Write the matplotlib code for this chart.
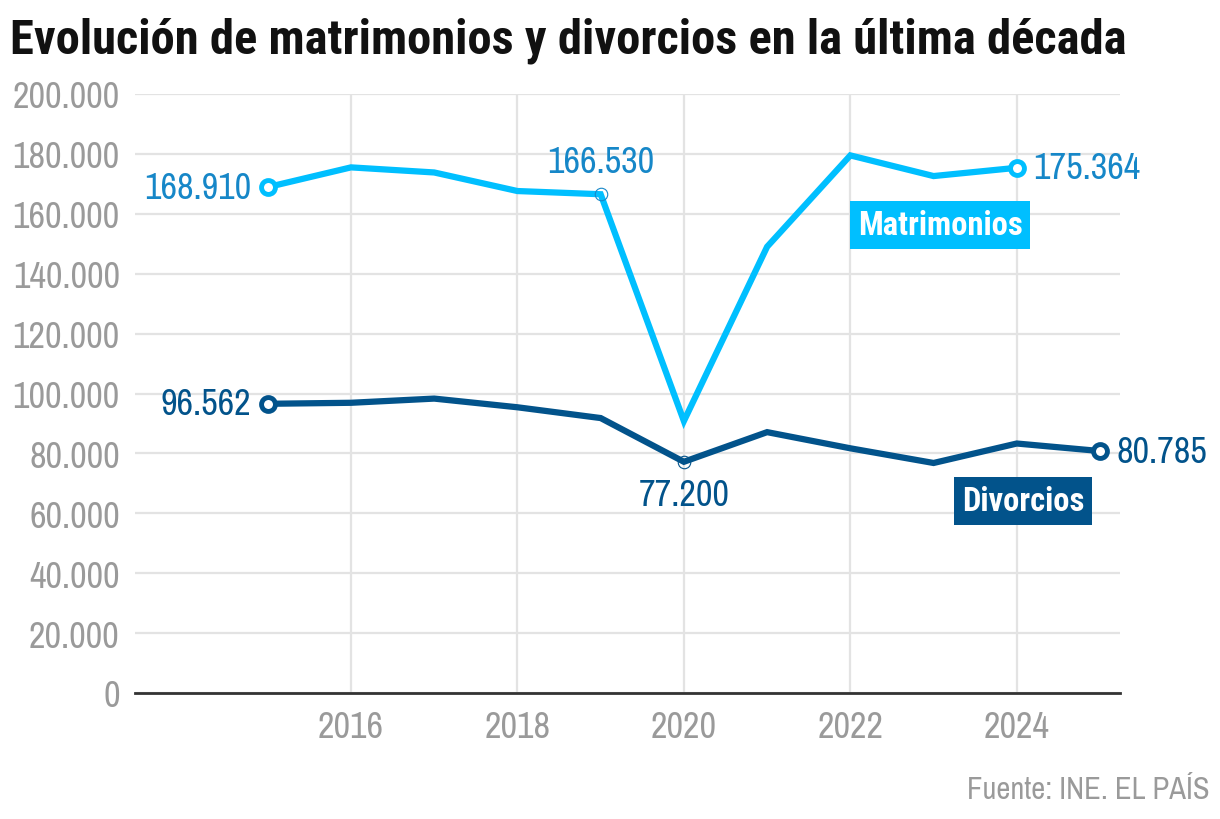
import matplotlib
matplotlib.use("Agg")
import matplotlib.pyplot as plt
from matplotlib.ticker import FuncFormatter

years = [2015, 2016, 2017, 2018, 2019, 2020, 2021, 2022, 2023, 2024, 2025]
matrimonios_years = years[:10]
matrimonios = [168910, 175500, 173800, 167600, 166530, 90800, 149000, 179500, 172600, 175364]
divorcios = [96562, 96900, 98300, 95400, 91800, 77200, 87100, 81700, 76800, 83300, 80785]

x_ticks = [2016, 2018, 2020, 2022, 2024]
y_ticks = list(range(0, 200001, 20000))

title = "Evolución de matrimonios y divorcios en la última década"
source = "Fuente: INE. EL PAÍS"

C_MAT = "#00BFFF"
C_MAT_TXT = "#1687C8"
C_DIV = "#02538B"
GRID = "#E3E3E3"
TICK = "#9A9A9A"

FONT = ["Archivo Narrow", "DejaVu Sans"]
BOLD = ["Roboto Condensed", "DejaVu Sans"]
plt.rcParams["font.family"] = FONT

fig = plt.figure(figsize=(12.2, 8.2), dpi=100)
ax = fig.add_axes([135/1220, 1-694/820, (1120-135)/1220, (694-95)/820])

ax.set_xlim(2013.405, 2025.24)
ax.set_ylim(0, 200000)

for s in ["top", "right", "left"]:
    ax.spines[s].set_visible(False)
ax.spines["bottom"].set_color("#333333")
ax.spines["bottom"].set_linewidth(2)
ax.spines["bottom"].set_zorder(5)

ax.set_xticks(x_ticks)
ax.set_yticks(y_ticks)
ax.yaxis.set_major_formatter(FuncFormatter(lambda v, p: f"{int(v):,}".replace(",", ".")))
ax.grid(True, color=GRID, linewidth=1.6)
ax.set_axisbelow(True)
ax.tick_params(axis="both", length=0, labelsize=26, labelcolor=TICK)
ax.tick_params(axis="y", pad=11)
ax.tick_params(axis="x", pad=12)

ax.plot(matrimonios_years, matrimonios, color=C_MAT, lw=4.5, solid_joinstyle="miter", zorder=3)
ax.plot(years, divorcios, color=C_DIV, lw=4.5, solid_joinstyle="miter", zorder=3)

# endpoint markers
for xs, ys, c in [([matrimonios_years[0], matrimonios_years[-1]], [matrimonios[0], matrimonios[-1]], C_MAT),
                  ([years[0], years[-1]], [divorcios[0], divorcios[-1]], C_DIV)]:
    ax.plot(xs, ys, "o", ms=10, mfc="white", mec=c, mew=3.5, zorder=4, ls="none")

# small markers at highlighted points
ax.plot([2019], [matrimonios[4]], "o", ms=9, mfc="none", mec=C_MAT_TXT, mew=0.8, zorder=4)
ax.plot([2020], [divorcios[5]], "o", ms=9, mfc="none", mec=C_DIV, mew=0.8, zorder=4)

def fmt(v):
    return f"{v:,}".replace(",", ".")

fs = 26
ax.annotate(fmt(matrimonios[0]), (2015, matrimonios[0]), xytext=(-12, 0), textcoords="offset points",
            ha="right", va="center", fontsize=fs, color=C_MAT_TXT)
ax.annotate(fmt(matrimonios[4]), (2019, matrimonios[4]), xytext=(0, 12), textcoords="offset points",
            ha="center", va="bottom", fontsize=fs, color=C_MAT_TXT)
ax.annotate(fmt(matrimonios[-1]), (2024, matrimonios[-1]), xytext=(12, 0), textcoords="offset points",
            ha="left", va="center", fontsize=fs, color=C_MAT_TXT)
ax.annotate(fmt(divorcios[0]), (2015, divorcios[0]), xytext=(-12, 0), textcoords="offset points",
            ha="right", va="center", fontsize=fs, color=C_DIV)
ax.annotate(fmt(divorcios[5]), (2020, divorcios[5]), xytext=(0, -12), textcoords="offset points",
            ha="center", va="top", fontsize=fs, color=C_DIV)
ax.annotate(fmt(divorcios[-1]), (2025, divorcios[-1]), xytext=(12, 0), textcoords="offset points",
            ha="left", va="center", fontsize=fs, color=C_DIV)

# series labels
ax.text(2023.08, 156300, "Matrimonios", ha="center", va="center", fontsize=23.5, fontweight="bold",
        family=BOLD, color="white", bbox=dict(boxstyle="square,pad=0.24", fc=C_MAT, ec="none"), zorder=6)
ax.text(2024.08, 64200, "Divorcios", ha="center", va="center", fontsize=23.5, fontweight="bold",
        family=BOLD, color="white", bbox=dict(boxstyle="square,pad=0.24", fc=C_DIV, ec="none"), zorder=6)

fig.text(10/1220, 1-41/820, title, ha="left", va="center", fontsize=35, fontweight="bold",
         family=BOLD, color="#111111")
fig.text(1210/1220, 1-790/820, source, ha="right", va="center", fontsize=22, color=TICK)

fig.savefig("out.png", dpi=100)
